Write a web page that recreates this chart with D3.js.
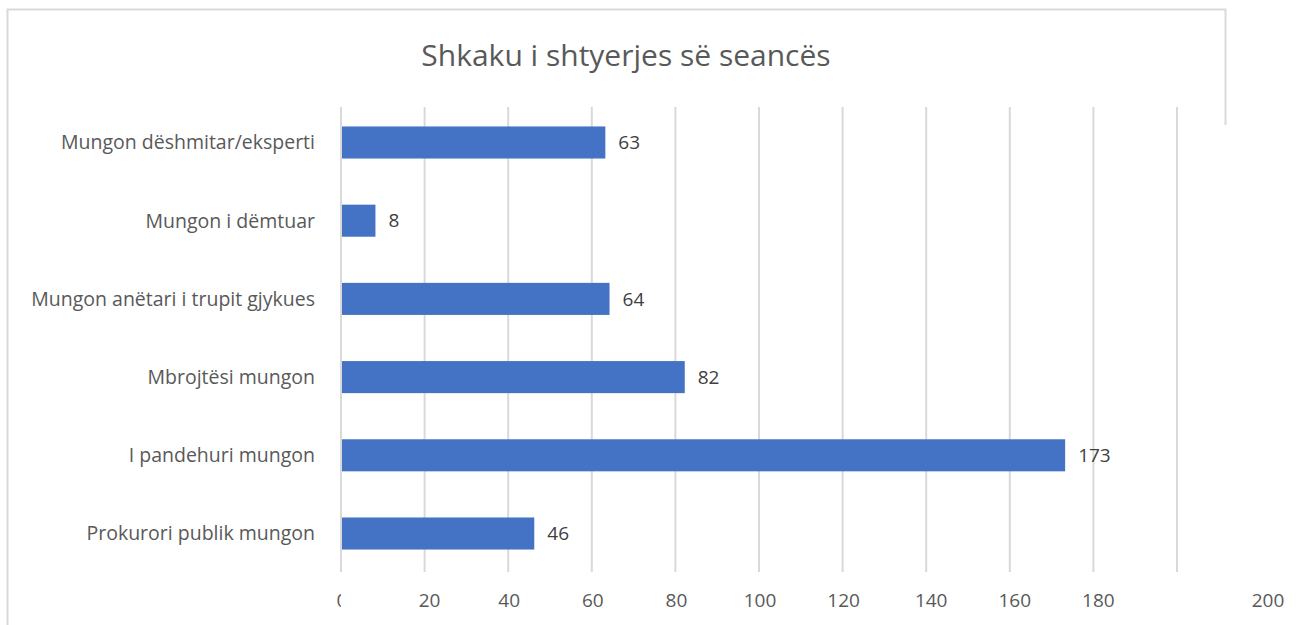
<!DOCTYPE html>
<html><head><meta charset="utf-8">
<script src="https://cdn.jsdelivr.net/npm/d3@7"></script>
<style>body{margin:0;background:#fff}svg{display:block}</style>
</head><body><svg id="c" width="1300" height="625"></svg>
<script>
const categories = ["Mungon dëshmitar/eksperti","Mungon i dëmtuar","Mungon anëtari i trupit gjykues","Mbrojtësi mungon","I pandehuri mungon","Prokurori publik mungon"];
const values = [63, 8, 64, 82, 173, 46];
const tickValues = [0,20,40,60,80,100,120,140,160,180,200];
const title = "Shkaku i shtyerjes së seancës";

const svg = d3.select("#c");
const font = "'Open Sans', sans-serif";
const grey = "#595959";

// frame
svg.append("path").attr("d","M7.5,625 V9.5 H1225.5 V125").attr("fill","none").attr("stroke","#d9d9d9").attr("stroke-width",2);

const x = d3.scaleLinear().domain([0,200]).range([341,1177]);
const y = d3.scaleBand().domain(categories).range([103,573]).paddingInner(0.59).paddingOuter(0.3);

// gridlines
svg.append("g").selectAll("line").data(tickValues).join("line")
  .attr("x1",d=>x(d)).attr("x2",d=>x(d)).attr("y1",107).attr("y2",572)
  .attr("stroke","#d9d9d9").attr("stroke-width",2);

// bars
svg.append("g").selectAll("rect").data(values).join("rect")
  .attr("x",x(0)+1).attr("y",(d,i)=>y(categories[i]))
  .attr("width",d=>x(d)-x(0)).attr("height",y.bandwidth()).attr("fill","#4472c4");

// value labels
svg.append("g").selectAll("text").data(values).join("text")
  .attr("x",d=>x(d)+14).attr("y",(d,i)=>y(categories[i])+y.bandwidth()/2)
  .attr("dy","0.35em").text(d=>d)
  .attr("font-family",font).attr("font-size",19).attr("fill","#404040");

// category labels
svg.append("g").selectAll("text").data(categories).join("text")
  .attr("x",315).attr("y",d=>y(d)+y.bandwidth()/2).attr("dy","0.35em")
  .attr("text-anchor","end").text(d=>d)
  .attr("font-family",font).attr("font-size",19.5).attr("fill",grey);

// x tick labels
svg.append("defs").append("clipPath").attr("id","clip0").append("rect").attr("x",0).attr("y",0).attr("width",341).attr("height",625);
const axis = svg.append("g");
axis.selectAll("text").data(tickValues).join("text")
  .attr("x",d=> d===200 ? x(d)+91 : x(d)+ ((d===20||d>=140)?5:1))
  .attr("y",600).attr("dy","0.35em").attr("text-anchor","middle")
  .attr("clip-path",d=>d===0?"url(#clip0)":null)
  .text(d=>d).attr("font-family",font).attr("font-size",19).attr("fill",grey);

// title
svg.append("text").attr("x",626).attr("y",55).attr("dy","0.35em").attr("text-anchor","middle")
  .text(title).attr("font-family",font).attr("font-size",30).attr("fill",grey);
</script></body></html>
